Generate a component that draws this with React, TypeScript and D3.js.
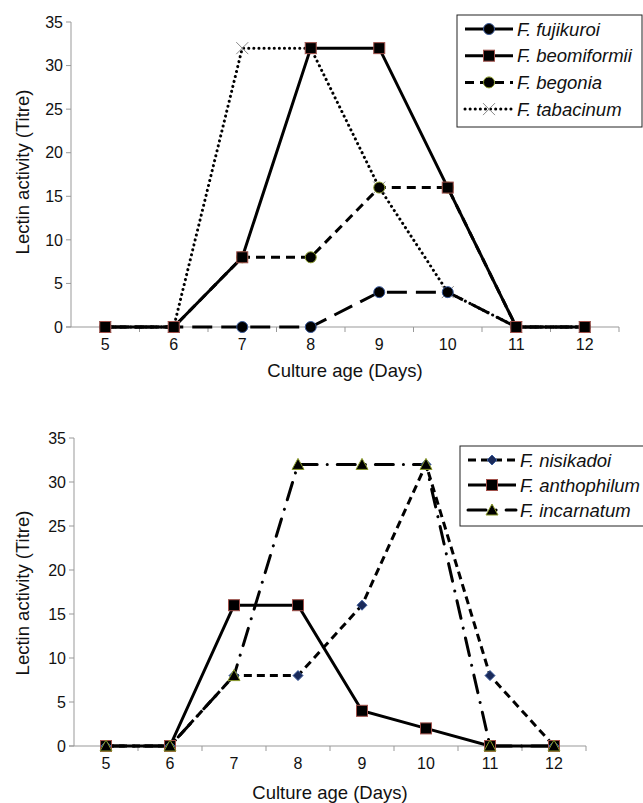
import React from "react";
import * as d3 from "d3";

const days = [5, 6, 7, 8, 9, 10, 11, 12];
const yTicks = [0, 5, 10, 15, 20, 25, 30, 35];

const topNames = ["F. fujikuroi", "F. beomiformii", "F. begonia", "F. tabacinum"];
const fujikuroi = [0, 0, 0, 0, 4, 4, 0, 0];
const beomiformii = [0, 0, 8, 32, 32, 16, 0, 0];
const begonia = [0, 0, 8, 8, 16, 16, 0, 0];
const tabacinum = [0, 0, 32, 32, 16, 4, 0, 0];

const bottomNames = ["F. nisikadoi", "F. anthophilum", "F. incarnatum"];
const nisikadoi = [0, 0, 8, 8, 16, 32, 8, 0];
const anthophilum = [0, 0, 16, 16, 4, 2, 0, 0];
const incarnatum = [0, 0, 8, 32, 32, 32, 0, 0];

type Series = {
  name: string;
  values: number[];
  dash: string;
  marker: string;
  stroke: string;
  width: number;
};

const topSeries: Series[] = [
  { name: topNames[3], values: tabacinum, dash: "0.1,5", marker: "x", stroke: "#888", width: 3 },
  { name: topNames[2], values: begonia, dash: "9,6", marker: "circle", stroke: "#8a9a2a", width: 3 },
  { name: topNames[0], values: fujikuroi, dash: "20,9", marker: "circle", stroke: "#3a5a9a", width: 3 },
  { name: topNames[1], values: beomiformii, dash: "", marker: "square", stroke: "#a0504a", width: 3 },
];
const topLegendOrder = [2, 3, 1, 0];

const bottomSeries: Series[] = [
  { name: bottomNames[1], values: anthophilum, dash: "", marker: "square", stroke: "#a0504a", width: 3 },
  { name: bottomNames[0], values: nisikadoi, dash: "8,5", marker: "diamond", stroke: "#1a2a5a", width: 3 },
  { name: bottomNames[2], values: incarnatum, dash: "18,10,0.1,10", marker: "triangle", stroke: "#8a9a2a", width: 3 },
];
const bottomLegendOrder = [1, 0, 2];

const FONT = "'Liberation Sans', Arial, Helvetica, sans-serif";

function Marker({ type, x, y, stroke }: { type: string; x: number; y: number; stroke: string }) {
  if (type === "circle") return <circle cx={x} cy={y} r={5.5} fill="#000" stroke={stroke} strokeWidth={1} />;
  if (type === "square")
    return <rect x={x - 5.5} y={y - 5.5} width={11} height={11} fill="#000" stroke={stroke} strokeWidth={1} />;
  if (type === "diamond")
    return <path d={`M${x},${y - 5}L${x + 5},${y}L${x},${y + 5}L${x - 5},${y}Z`} fill="#1a2a5a" stroke="#3a5a9a" strokeWidth={1} />;
  if (type === "triangle")
    return <path d={`M${x},${y - 6}L${x + 6},${y + 5}L${x - 6},${y + 5}Z`} fill="#000" stroke={stroke} strokeWidth={1} />;
  if (type === "x")
    return (
      <g stroke={stroke} strokeWidth={1}>
        <line x1={x - 6} y1={y - 6} x2={x + 6} y2={y + 6} />
        <line x1={x - 6} y1={y + 6} x2={x + 6} y2={y - 6} />
      </g>
    );
  return null;
}

function Panel({
  series, legendOrder, x0, x1, yTop, yBottom, xLabelY, yLabelCY, legend,
}: {
  series: Series[]; legendOrder: number[]; x0: number; x1: number; yTop: number; yBottom: number;
  xLabelY: number; yLabelCY: number;
  legend: { x: number; y: number; w: number; h: number; rowH: number };
}) {
  const band = d3.scaleBand<number>().domain(days).range([x0, x1]).padding(0);
  const xs = (d: number) => (band(d) as number) + band.bandwidth() / 2;
  const y = d3.scaleLinear().domain([0, 35]).range([yBottom, yTop]);
  const line = d3.line<number>().x((_, i) => xs(days[i])).y((v) => y(v));
  const boundaries = d3.range(days.length + 1).map((i) => x0 + i * band.bandwidth());
  return (
    <g fontFamily={FONT}>
      {/* y axis */}
      <line x1={x0} x2={x0} y1={yTop} y2={yBottom} stroke="#999" strokeWidth={1} />
      {yTicks.map((t) => (
        <g key={t}>
          <line x1={x0 - 5} x2={x0} y1={y(t)} y2={y(t)} stroke="#999" />
          <text x={x0 - 8} y={y(t)} dy="0.36em" textAnchor="end" fontSize={16} fill="#111">{t}</text>
        </g>
      ))}
      {/* x axis */}
      <line x1={x0 - 5} x2={x1} y1={yBottom} y2={yBottom} stroke="#999" strokeWidth={1} />
      {boundaries.slice(1).map((b, i) => (
        <line key={i} x1={b} x2={b} y1={yBottom} y2={yBottom + 5} stroke="#999" />
      ))}
      {days.map((d) => (
        <text key={d} x={xs(d)} y={yBottom + 23} textAnchor="middle" fontSize={16} fill="#111">{d}</text>
      ))}
      <text x={(x0 + x1) / 2} y={xLabelY} textAnchor="middle" fontSize={18.5} fill="#111">Culture age (Days)</text>
      <text transform={`translate(29,${yLabelCY}) rotate(-90)`} textAnchor="middle" fontSize={18.5} fill="#111">
        Lectin activity (Titre)
      </text>
      {series.map((s) => (
        <path key={s.name} d={line(s.values) as string} fill="none" stroke="#000" strokeWidth={s.width}
          strokeDasharray={s.dash || undefined} strokeLinecap={s.dash.includes("0.1") ? "round" : "butt"} />
      ))}
      {series.map((s) =>
        s.values.map((v, i) => <Marker key={s.name + i} type={s.marker} x={xs(days[i])} y={y(v)} stroke={s.stroke} />)
      )}
      {/* legend */}
      <rect x={legend.x} y={legend.y} width={legend.w} height={legend.h} fill="#fff" stroke="#222" strokeWidth={1} />
      {legendOrder.map((si, k) => {
        const s = series[si];
        const ly = legend.y + 14 + k * legend.rowH;
        const lx0 = legend.x + 8;
        const lx1 = legend.x + 56;
        return (
          <g key={s.name}>
            <line x1={lx0} x2={lx1} y1={ly} y2={ly} stroke="#000" strokeWidth={3}
              strokeDasharray={s.dash ? s.dash : undefined} strokeLinecap={s.dash.includes("0.1") ? "round" : "butt"} />
            <Marker type={s.marker} x={(lx0 + lx1) / 2} y={ly} stroke={s.stroke} />
            <text x={lx1 + 4} y={ly} dy="0.36em" fontSize={18.5} fontStyle="italic" fill="#111">{s.name}</text>
          </g>
        );
      })}
    </g>
  );
}

export default function App() {
  return (
    <svg width={643} height={803} style={{ position: "absolute", left: 0, top: 0, background: "#fff" }}>
      <Panel series={topSeries} legendOrder={topLegendOrder} x0={71} x1={619} yTop={22} yBottom={327}
        xLabelY={377} yLabelCY={172}
        legend={{ x: 457, y: 15, w: 185, h: 112, rowH: 26.7 }} />
      <Panel series={bottomSeries} legendOrder={bottomLegendOrder} x0={74} x1={586} yTop={438} yBottom={746}
        xLabelY={799} yLabelCY={593}
        legend={{ x: 460, y: 446, w: 190, h: 80, rowH: 25 }} />
    </svg>
  );
}
